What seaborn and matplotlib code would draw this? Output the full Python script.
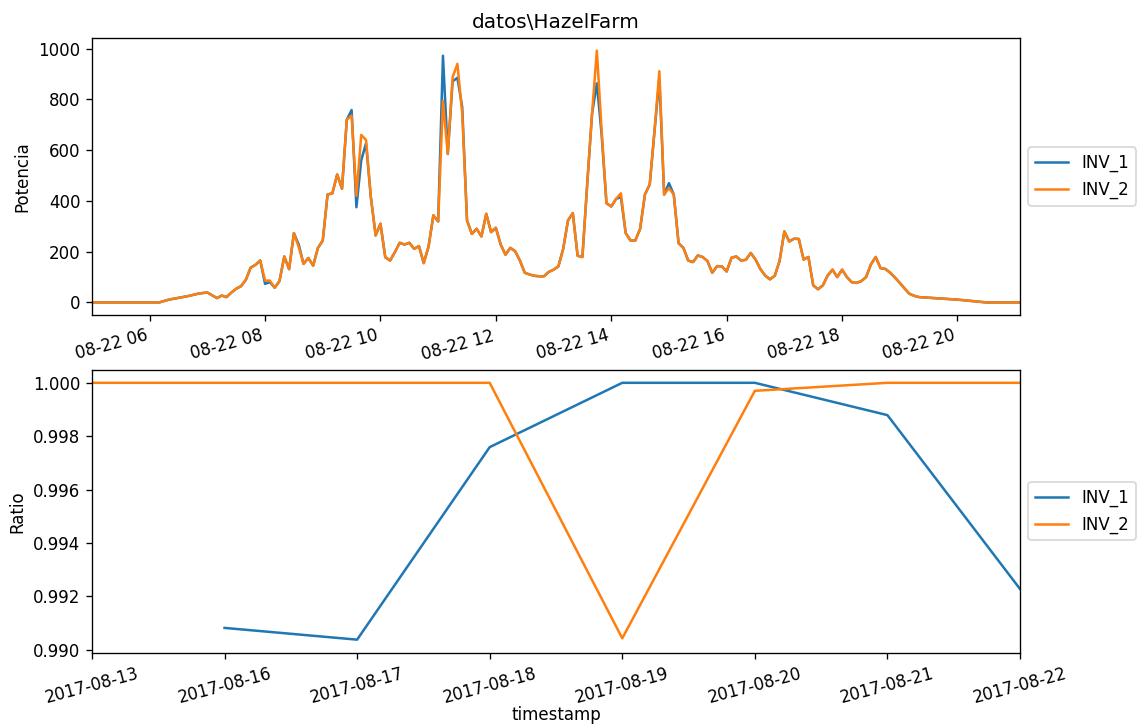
import matplotlib
matplotlib.use("Agg")
import matplotlib.pyplot as plt
import matplotlib.dates as mdates
import seaborn as sns
import pandas as pd
import numpy as np

# ---------------- data: top panel (2017-08-22, power) ----------------
times = ["05:00", "06:10", "06:20", "06:30", "06:40", "06:50", "06:55",
         "07:00", "07:05", "07:10", "07:15", "07:20", "07:25", "07:30", "07:35", "07:40", "07:45", "07:50", "07:55",
         "08:00", "08:05", "08:10", "08:15", "08:20", "08:25", "08:30", "08:35", "08:40", "08:45", "08:50", "08:55",
         "09:00", "09:05", "09:10", "09:15", "09:20", "09:25", "09:30", "09:35", "09:40", "09:45", "09:50", "09:55",
         "10:00", "10:05", "10:10", "10:15", "10:20", "10:25", "10:30", "10:35", "10:40", "10:45", "10:50", "10:55",
         "11:00", "11:05", "11:10", "11:15", "11:20", "11:25", "11:30", "11:35", "11:40", "11:45", "11:50", "11:55",
         "12:00", "12:05", "12:10", "12:15", "12:20", "12:25", "12:30", "12:35", "12:40", "12:45", "12:50", "12:55",
         "13:00", "13:05", "13:10", "13:15", "13:20", "13:25", "13:30", "13:35", "13:40", "13:45", "13:50", "13:55",
         "14:00", "14:05", "14:10", "14:15", "14:20", "14:25", "14:30", "14:35", "14:40", "14:45", "14:50", "14:55",
         "15:00", "15:05", "15:10", "15:15", "15:20", "15:25", "15:30", "15:35", "15:40", "15:45", "15:50", "15:55",
         "16:00", "16:05", "16:10", "16:15", "16:20", "16:25", "16:30", "16:35", "16:40", "16:45", "16:50", "16:55",
         "17:00", "17:05", "17:10", "17:15", "17:20", "17:25", "17:30", "17:35", "17:40", "17:45", "17:50", "17:55",
         "18:00", "18:05", "18:10", "18:15", "18:20", "18:25", "18:30", "18:35", "18:40", "18:45", "18:50", "18:55",
         "19:00", "19:05", "19:10", "19:15", "19:20", "19:40", "20:00", "20:30", "21:05"]

inv1_power = [0, 0, 11, 18, 25, 34, 37,
              39, 28, 17, 27, 21, 39, 54, 64, 89, 137, 148, 165,
              73, 80, 58, 84, 181, 131, 273, 228, 152, 175, 145, 215,
              244, 425, 430, 504, 448, 720, 758, 375, 560, 627, 415, 264,
              310, 178, 165, 198, 235, 228, 235, 211, 222, 155, 220, 343,
              319, 972, 585, 871, 885, 770, 323, 270, 290, 260, 349, 277,
              294, 228, 188, 215, 202, 165, 117, 110, 105, 103, 103, 120,
              129, 142, 211, 323, 352, 184, 179, 467, 743, 863, 660, 391,
              378, 408, 415, 273, 244, 244, 290, 425, 465, 677, 880, 425,
              470, 425, 233, 215, 165, 159, 185, 179, 163, 117, 143, 142,
              122, 176, 181, 165, 168, 195, 169, 132, 106, 91, 105, 163,
              280, 240, 251, 250, 169, 179, 67, 52, 67, 106, 129, 100,
              129, 100, 80, 77, 84, 100, 150, 179, 135, 132, 117, 98,
              77, 55, 34, 26, 21, 16, 11, 0, 0]

inv2_power = [0, 0, 11, 18, 25, 34, 37,
              39, 28, 17, 27, 21, 39, 54, 64, 89, 137, 148, 165,
              86, 86, 58, 84, 181, 131, 273, 218, 152, 175, 145, 215,
              244, 425, 430, 504, 448, 720, 736, 420, 660, 640, 415, 264,
              310, 178, 165, 198, 235, 228, 235, 211, 222, 155, 220, 343,
              319, 795, 585, 887, 940, 745, 323, 270, 290, 260, 349, 277,
              294, 228, 188, 215, 202, 165, 117, 110, 105, 103, 103, 120,
              129, 142, 211, 323, 352, 184, 179, 467, 743, 992, 677, 391,
              378, 408, 430, 273, 244, 244, 290, 425, 465, 677, 911, 425,
              450, 425, 233, 215, 165, 159, 185, 179, 163, 117, 143, 142,
              122, 176, 181, 165, 168, 195, 169, 132, 106, 91, 105, 163,
              280, 240, 251, 250, 169, 179, 67, 52, 67, 106, 129, 100,
              129, 100, 80, 77, 84, 100, 150, 179, 135, 132, 117, 98,
              77, 55, 34, 26, 21, 16, 11, 0, 0]

# ---------------- data: bottom panel (daily ratio) ----------------
date_labels = ["2017-08-13", "2017-08-16", "2017-08-17", "2017-08-18",
               "2017-08-19", "2017-08-20", "2017-08-21", "2017-08-22"]
inv1_ratio = [np.nan, 0.99082, 0.99038, 0.99759, 1.0, 1.0, 0.99879, 0.99228]
inv2_ratio = [1.0, 1.0, 1.0, 1.0, 0.99043, 0.99970, 1.0, 1.0]

title = "datos\\HazelFarm"

# ---------------- figure ----------------
ts = pd.to_datetime(["2017-08-22 " + t for t in times])

DPI = 120
fig = plt.figure(figsize=(1138 / DPI, 725 / DPI), dpi=DPI)
ax1 = fig.add_axes([0.0808, 0.5655, 0.8155, 0.382])
ax2 = fig.add_axes([0.0808, 0.100, 0.8155, 0.3897])

sns.lineplot(x=ts, y=inv1_power, ax=ax1, color="C0", label="INV_1", linewidth=1.5)
sns.lineplot(x=ts, y=inv2_power, ax=ax1, color="C1", label="INV_2", linewidth=1.5)
ax1.set_xlim(ts.min(), ts.max())
ax1.xaxis.set_major_locator(mdates.HourLocator(byhour=range(0, 24, 2)))
ax1.xaxis.set_major_formatter(mdates.DateFormatter("%m-%d %H"))
ax1.set_title(title, fontsize=12)
ax1.set_ylabel("Potencia")
ax1.set_xlabel("timestamp")
ax1.legend(loc="center left", bbox_to_anchor=(1.0, 0.5))
for lab in ax1.get_xticklabels():
    lab.set_rotation(15)
    lab.set_ha("right")

pos = np.arange(len(date_labels))
df2 = pd.DataFrame({"pos": pos, "INV_1": inv1_ratio, "INV_2": inv2_ratio})
d1 = df2.dropna(subset=["INV_1"])
sns.lineplot(x=d1["pos"], y=d1["INV_1"], ax=ax2, color="C0", label="INV_1", linewidth=1.5)
sns.lineplot(x=df2["pos"], y=df2["INV_2"], ax=ax2, color="C1", label="INV_2", linewidth=1.5)
ax2.set_xlim(pos.min(), pos.max())
ax2.set_xticks(pos)
ax2.set_xticklabels(date_labels, rotation=15, ha="center")
ax2.set_yticks([0.990, 0.992, 0.994, 0.996, 0.998, 1.000])
ax2.yaxis.set_major_formatter(matplotlib.ticker.FormatStrFormatter("%.3f"))
ax2.set_ylabel("Ratio")
ax2.set_xlabel("timestamp", labelpad=0)
ax2.legend(loc="center left", bbox_to_anchor=(1.0, 0.5))

fig.savefig("out.png", dpi=DPI)
